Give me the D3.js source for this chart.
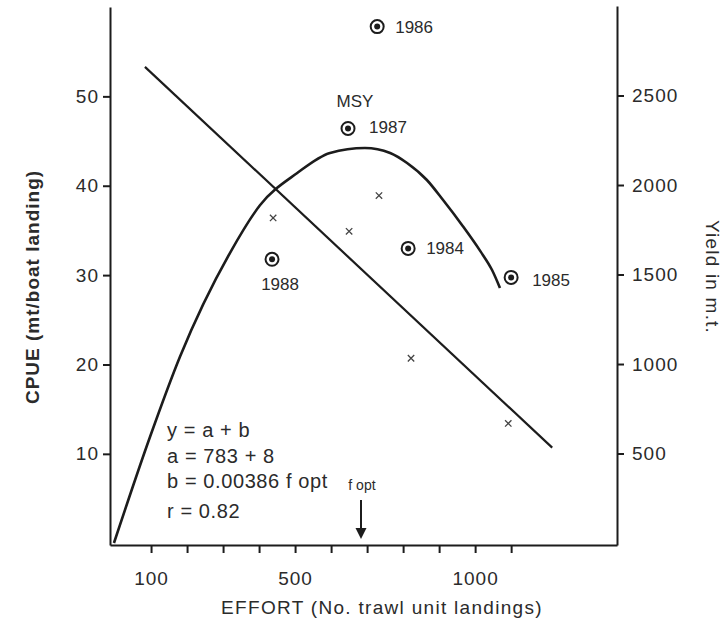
<!DOCTYPE html>
<html>
<head>
<meta charset="utf-8">
<script src="https://cdn.jsdelivr.net/npm/d3@7"></script>
<style>
  body { margin: 0; background: #fff; }
  text { font-family: "Liberation Sans", Arial, sans-serif; fill: #2b2b2b; }
</style>
</head>
<body>
<div id="chart"></div>
<script>
// dữ liệu
var effortTicks = [100, 200, 300, 400, 500, 600, 700, 800, 900, 1000, 1100];
var effortLabels = [100, 500, 1000];
var cpueTicks = [10, 20, 30, 40, 50];
var yieldTicks = [500, 1000, 1500, 2000, 2500];

// các điểm x (CPUE)
var cpueEffort = [439, 650, 733, 822, 1092];
var cpueValues = [36.4, 34.9, 38.9, 20.7, 13.4];

// đường hồi quy CPUE
var regEffort = [83, 1214];
var regCpue = [53.3, 10.7];

// các năm (sản lượng)
var years = ["1986", "1987", "1984", "1985", "1988"];
var yearEffort = [728, 647, 814, 1100, 436];
var yearYield = [2885, 2316, 1646, 1484, 1585];

// đường cong sản lượng
var curveEffort = [-3, 97, 180, 319, 403, 506, 597, 694, 764, 811, 866, 911, 966, 1014, 1047, 1069];
var curveYield = [0, 592, 1039, 1620, 1888, 2067, 2179, 2207, 2179, 2123, 2028, 1916, 1770, 1632, 1525, 1425];

var fOpt = 683;
var equation = ["y = a + b", "a = 783 + 8", "b = 0.00386 f opt", "r = 0.82"];

var width = 728, height = 626;
var ink = "#1c1c1c";

var svg = d3.select("#chart").append("svg")
  .attr("width", width)
  .attr("height", height);

var x = d3.scaleLinear().domain([-14, 1394]).range([110, 617]);
var yL = d3.scaleLinear().domain([-0.2, 60]).range([545, 7]);
var yR = d3.scaleLinear().domain([-11, 3000]).range([545, 6]);

// trục x
var xAxis = svg.append("g")
  .attr("transform", "translate(0,545)")
  .call(d3.axisBottom(x).tickValues(effortTicks).tickSize(8).tickSizeOuter(0)
    .tickFormat(function(d) { return effortLabels.indexOf(d) >= 0 ? d : ""; }));
xAxis.selectAll("text").attr("dy", "1.55em").style("font-size", "19px").style("letter-spacing", "1px");

// trục trái
var lAxis = svg.append("g")
  .attr("transform", "translate(110,0)")
  .call(d3.axisLeft(yL).tickValues(cpueTicks).tickSize(7).tickSizeOuter(0));
lAxis.selectAll("text").attr("x", -11).style("font-size", "19px").style("letter-spacing", "1px");

// trục phải
var rAxis = svg.append("g")
  .attr("transform", "translate(617,0)")
  .call(d3.axisRight(yR).tickValues(yieldTicks).tickFormat(d3.format("d")).tickSize(7).tickSizeOuter(0));
rAxis.selectAll("text").attr("x", 15).style("font-size", "19px").style("letter-spacing", "1px");

svg.selectAll(".domain, .tick line").attr("stroke", ink).attr("stroke-width", 2);
svg.selectAll(".tick text").attr("fill", "#2b2b2b").attr("font-family", null);

// nhãn trục
svg.append("text")
  .attr("transform", "translate(39,287) rotate(-90)")
  .attr("text-anchor", "middle")
  .style("font-size", "19px").style("font-weight", "bold").style("letter-spacing", "1px")
  .text("CPUE (mt/boat landing)");

svg.append("text")
  .attr("transform", "translate(706,277) rotate(90)")
  .attr("text-anchor", "middle")
  .style("font-size", "19px").style("letter-spacing", "1.2px")
  .text("Yield in m.t.");

svg.append("text")
  .attr("x", 382).attr("y", 614)
  .attr("text-anchor", "middle")
  .style("font-size", "19px").style("letter-spacing", "1.3px")
  .text("EFFORT (No. trawl unit landings)");

// đường hồi quy
var regLine = d3.line()
  .x(function(d, i) { return x(regEffort[i]); })
  .y(function(d, i) { return yL(regCpue[i]); });
svg.append("path")
  .datum(regEffort)
  .attr("d", regLine)
  .attr("fill", "none").attr("stroke", ink).attr("stroke-width", 2.2);

// đường cong sản lượng
var yieldLine = d3.line()
  .x(function(d, i) { return x(curveEffort[i]); })
  .y(function(d, i) { return yR(curveYield[i]); })
  .curve(d3.curveMonotoneX);
svg.append("path")
  .datum(curveEffort)
  .attr("d", yieldLine)
  .attr("fill", "none").attr("stroke", ink).attr("stroke-width", 2.6);

// dấu x
svg.selectAll(".cross")
  .data(cpueEffort)
  .enter().append("path")
  .attr("class", "cross")
  .attr("d", function(d, i) {
    var cx = x(d), cy = yL(cpueValues[i]), s = 3.2;
    return "M" + (cx - s) + "," + (cy - s) + "L" + (cx + s) + "," + (cy + s) +
      "M" + (cx + s) + "," + (cy - s) + "L" + (cx - s) + "," + (cy + s);
  })
  .attr("stroke", "#444").attr("stroke-width", 1.3);

// điểm các năm
var yearG = svg.selectAll(".year")
  .data(years)
  .enter().append("g")
  .attr("class", "year")
  .attr("transform", function(d, i) { return "translate(" + x(yearEffort[i]) + "," + yR(yearYield[i]) + ")"; });
yearG.append("circle").attr("r", 6.5).attr("fill", "#fff").attr("stroke", ink).attr("stroke-width", 2);
yearG.append("circle").attr("r", 3).attr("fill", ink);

// vị trí nhãn năm
var labelPos = { "1986": [18, 6, "start"], "1987": [21, 5, "start"], "1984": [18, 6, "start"],
                 "1985": [21, 9, "start"], "1988": [8, 31, "middle"] };
yearG.append("text")
  .attr("x", function(d) { return labelPos[d][0]; })
  .attr("y", function(d) { return labelPos[d][1]; })
  .attr("text-anchor", function(d) { return labelPos[d][2]; })
  .style("font-size", "17px")
  .text(function(d) { return d; });

svg.append("text")
  .attr("x", x(yearEffort[1]) + 7).attr("y", 107)
  .attr("text-anchor", "middle")
  .style("font-size", "17px")
  .text("MSY");

// phương trình
svg.selectAll(".eq")
  .data(equation)
  .enter().append("text")
  .attr("class", "eq")
  .attr("x", 167)
  .attr("y", function(d, i) { return [437, 463, 488, 518][i]; })
  .style("font-size", "20px").style("letter-spacing", "0.6px")
  .text(function(d) { return d; });

// mũi tên f opt
var fx = x(fOpt);
svg.append("text")
  .attr("x", fx + 1).attr("y", 490)
  .attr("text-anchor", "middle")
  .style("font-size", "14px")
  .text("f opt");
svg.append("line")
  .attr("x1", fx).attr("x2", fx).attr("y1", 500).attr("y2", 532)
  .attr("stroke", ink).attr("stroke-width", 2);
svg.append("path")
  .attr("d", "M" + (fx - 5.5) + ",528L" + (fx + 5.5) + ",528L" + fx + ",539Z")
  .attr("fill", ink);
</script>
</body>
</html>
